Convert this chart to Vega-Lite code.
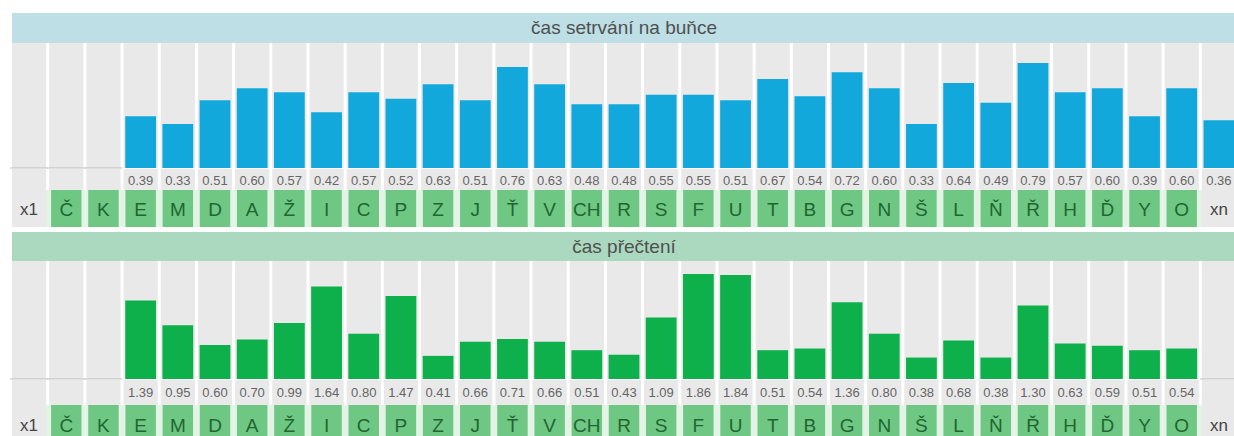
{
  "$schema": "https://vega.github.io/schema/vega-lite/v6.json",
  "background": "white",
  "padding": {"left": 10, "top": 13, "right": 0, "bottom": 0},
  "spacing": 5,
  "datasets": {
    "cols": [
      {"col": "x1", "setr": null, "prec": null},
      {"col": "Č", "setr": null, "prec": null},
      {"col": "K", "setr": null, "prec": null},
      {"col": "E", "setr": 0.39, "prec": 1.39},
      {"col": "M", "setr": 0.33, "prec": 0.95},
      {"col": "D", "setr": 0.51, "prec": 0.60},
      {"col": "A", "setr": 0.60, "prec": 0.70},
      {"col": "Ž", "setr": 0.57, "prec": 0.99},
      {"col": "I", "setr": 0.42, "prec": 1.64},
      {"col": "C", "setr": 0.57, "prec": 0.80},
      {"col": "P", "setr": 0.52, "prec": 1.47},
      {"col": "Z", "setr": 0.63, "prec": 0.41},
      {"col": "J", "setr": 0.51, "prec": 0.66},
      {"col": "Ť", "setr": 0.76, "prec": 0.71},
      {"col": "V", "setr": 0.63, "prec": 0.66},
      {"col": "CH", "setr": 0.48, "prec": 0.51},
      {"col": "R", "setr": 0.48, "prec": 0.43},
      {"col": "S", "setr": 0.55, "prec": 1.09},
      {"col": "F", "setr": 0.55, "prec": 1.86},
      {"col": "U", "setr": 0.51, "prec": 1.84},
      {"col": "T", "setr": 0.67, "prec": 0.51},
      {"col": "B", "setr": 0.54, "prec": 0.54},
      {"col": "G", "setr": 0.72, "prec": 1.36},
      {"col": "N", "setr": 0.60, "prec": 0.80},
      {"col": "Š", "setr": 0.33, "prec": 0.38},
      {"col": "L", "setr": 0.64, "prec": 0.68},
      {"col": "Ň", "setr": 0.49, "prec": 0.38},
      {"col": "Ř", "setr": 0.79, "prec": 1.30},
      {"col": "H", "setr": 0.57, "prec": 0.63},
      {"col": "Ď", "setr": 0.60, "prec": 0.59},
      {"col": "Y", "setr": 0.39, "prec": 0.51},
      {"col": "O", "setr": 0.60, "prec": 0.54},
      {"col": "xn", "setr": 0.36, "prec": null}
    ]
  },
  "vconcat": [
    {
      "spacing": 0,
      "vconcat": [
        {
          "width": 1224, "height": 30,
          "view": {"fill": "#bddfe5", "stroke": null},
          "data": {"values": [{"t": "čas setrvání na buňce"}]},
          "mark": {"type": "text", "fontSize": 19, "color": "#505050", "font": "Liberation Sans"},
          "encoding": {"text": {"field": "t", "type": "nominal"}}
        },
        {
          "width": 1224, "height": 125,
          "data": {"name": "cols"},
          "layer": [
            {
              "mark": {"type": "bar", "color": "#e9e9e9"},
              "encoding": {"x": {"field": "col", "type": "nominal", "sort": null, "axis": null, "scale": {"domain": ["x1","Č","K","E","M","D","A","Ž","I","C","P","Z","J","Ť","V","CH","R","S","F","U","T","B","G","N","Š","L","Ň","Ř","H","Ď","Y","O","xn"], "paddingInner": 0.08, "paddingOuter": 0}}}
            },
            {
              "transform": [{"filter": "datum.setr != null"}],
              "mark": {"type": "bar", "color": "#12a8dc", "width": {"band": 0.9}},
              "encoding": {
                "x": {"field": "col", "type": "nominal", "sort": null, "axis": null, "scale": {"domain": ["x1","Č","K","E","M","D","A","Ž","I","C","P","Z","J","Ť","V","CH","R","S","F","U","T","B","G","N","Š","L","Ň","Ř","H","Ď","Y","O","xn"], "paddingInner": 0.08, "paddingOuter": 0}},
                "y": {"field": "setr", "type": "quantitative", "axis": null, "scale": {"domain": [0, 0.94], "nice": false}}
              }
            },
            {
              "transform": [{"filter": "datum.setr == null"}],
              "mark": {"type": "tick", "color": "#a9a9a9", "thickness": 1, "size": 38, "orient": "horizontal"},
              "encoding": {
                "x": {"field": "col", "type": "nominal", "sort": null, "axis": null, "scale": {"domain": ["x1","Č","K","E","M","D","A","Ž","I","C","P","Z","J","Ť","V","CH","R","S","F","U","T","B","G","N","Š","L","Ň","Ř","H","Ď","Y","O","xn"], "paddingInner": 0.08, "paddingOuter": 0}},
                "y": {"datum": 0, "type": "quantitative"}
              }
            }
          ]
        },
        {
          "width": 1224, "height": 21,
          "data": {"name": "cols"},
          "layer": [
            {
              "mark": {"type": "bar", "color": "#e9e9e9"},
              "encoding": {"x": {"field": "col", "type": "nominal", "sort": null, "axis": null, "scale": {"domain": ["x1","Č","K","E","M","D","A","Ž","I","C","P","Z","J","Ť","V","CH","R","S","F","U","T","B","G","N","Š","L","Ň","Ř","H","Ď","Y","O","xn"], "paddingInner": 0.08, "paddingOuter": 0}}}
            },
            {
              "transform": [{"filter": "datum.setr != null"}],
              "mark": {"type": "text", "fontSize": 13, "color": "#666666", "font": "Liberation Sans", "dy": 1},
              "encoding": {
                "x": {"field": "col", "type": "nominal", "sort": null, "axis": null, "scale": {"domain": ["x1","Č","K","E","M","D","A","Ž","I","C","P","Z","J","Ť","V","CH","R","S","F","U","T","B","G","N","Š","L","Ň","Ř","H","Ď","Y","O","xn"], "paddingInner": 0.08, "paddingOuter": 0}},
                "text": {"field": "setr", "type": "quantitative", "format": ".2f"}
              }
            }
          ]
        },
        {
          "width": 1224, "height": 37,
          "view": {"fill": "#e3f3e6", "stroke": null},
          "data": {"name": "cols"},
          "layer": [
            {
              "transform": [{"filter": "datum.col == 'x1' || datum.col == 'xn'"}],
              "mark": {"type": "bar", "color": "#e9e9e9"},
              "encoding": {"x": {"field": "col", "type": "nominal", "sort": null, "axis": null, "scale": {"domain": ["x1","Č","K","E","M","D","A","Ž","I","C","P","Z","J","Ť","V","CH","R","S","F","U","T","B","G","N","Š","L","Ň","Ř","H","Ď","Y","O","xn"], "paddingInner": 0.08, "paddingOuter": 0}}}
            },
            {
              "transform": [{"filter": "datum.col != 'x1' && datum.col != 'xn'"}],
              "mark": {"type": "bar", "color": "#6fc784", "width": {"band": 0.89}},
              "encoding": {"x": {"field": "col", "type": "nominal", "sort": null, "axis": null, "scale": {"domain": ["x1","Č","K","E","M","D","A","Ž","I","C","P","Z","J","Ť","V","CH","R","S","F","U","T","B","G","N","Š","L","Ň","Ř","H","Ď","Y","O","xn"], "paddingInner": 0.08, "paddingOuter": 0}}}
            },
            {
              "transform": [{"filter": "datum.col != 'x1' && datum.col != 'xn'"}],
              "mark": {"type": "text", "fontSize": 19, "color": "#1f6630", "font": "Liberation Sans", "dy": 1},
              "encoding": {
                "x": {"field": "col", "type": "nominal", "sort": null, "axis": null, "scale": {"domain": ["x1","Č","K","E","M","D","A","Ž","I","C","P","Z","J","Ť","V","CH","R","S","F","U","T","B","G","N","Š","L","Ň","Ř","H","Ď","Y","O","xn"], "paddingInner": 0.08, "paddingOuter": 0}},
                "text": {"field": "col", "type": "nominal"}
              }
            },
            {
              "transform": [{"filter": "datum.col == 'x1' || datum.col == 'xn'"}],
              "mark": {"type": "text", "fontSize": 17, "color": "#444444", "font": "Liberation Sans", "dy": 1},
              "encoding": {
                "x": {"field": "col", "type": "nominal", "sort": null, "axis": null, "scale": {"domain": ["x1","Č","K","E","M","D","A","Ž","I","C","P","Z","J","Ť","V","CH","R","S","F","U","T","B","G","N","Š","L","Ň","Ř","H","Ď","Y","O","xn"], "paddingInner": 0.08, "paddingOuter": 0}},
                "text": {"field": "col", "type": "nominal"}
              }
            }
          ]
        }
      ]
    },
    {
      "spacing": 0,
      "vconcat": [
        {
          "width": 1224, "height": 29,
          "view": {"fill": "#aad9bf", "stroke": null},
          "data": {"values": [{"t": "čas přečtení"}]},
          "mark": {"type": "text", "fontSize": 19, "color": "#505050", "font": "Liberation Sans"},
          "encoding": {"text": {"field": "t", "type": "nominal"}}
        },
        {
          "width": 1224, "height": 118,
          "data": {"name": "cols"},
          "layer": [
            {
              "mark": {"type": "bar", "color": "#e9e9e9"},
              "encoding": {"x": {"field": "col", "type": "nominal", "sort": null, "axis": null, "scale": {"domain": ["x1","Č","K","E","M","D","A","Ž","I","C","P","Z","J","Ť","V","CH","R","S","F","U","T","B","G","N","Š","L","Ň","Ř","H","Ď","Y","O","xn"], "paddingInner": 0.08, "paddingOuter": 0}}}
            },
            {
              "transform": [{"filter": "datum.prec != null"}],
              "mark": {"type": "bar", "color": "#0db04b", "width": {"band": 0.9}},
              "encoding": {
                "x": {"field": "col", "type": "nominal", "sort": null, "axis": null, "scale": {"domain": ["x1","Č","K","E","M","D","A","Ž","I","C","P","Z","J","Ť","V","CH","R","S","F","U","T","B","G","N","Š","L","Ň","Ř","H","Ď","Y","O","xn"], "paddingInner": 0.08, "paddingOuter": 0}},
                "y": {"field": "prec", "type": "quantitative", "axis": null, "scale": {"domain": [0, 2.09], "nice": false}}
              }
            },
            {
              "transform": [{"filter": "datum.prec == null"}],
              "mark": {"type": "tick", "color": "#a9a9a9", "thickness": 1, "size": 38, "orient": "horizontal"},
              "encoding": {
                "x": {"field": "col", "type": "nominal", "sort": null, "axis": null, "scale": {"domain": ["x1","Č","K","E","M","D","A","Ž","I","C","P","Z","J","Ť","V","CH","R","S","F","U","T","B","G","N","Š","L","Ň","Ř","H","Ď","Y","O","xn"], "paddingInner": 0.08, "paddingOuter": 0}},
                "y": {"datum": 0, "type": "quantitative"}
              }
            }
          ]
        },
        {
          "width": 1224, "height": 25,
          "data": {"name": "cols"},
          "layer": [
            {
              "mark": {"type": "bar", "color": "#e9e9e9"},
              "encoding": {"x": {"field": "col", "type": "nominal", "sort": null, "axis": null, "scale": {"domain": ["x1","Č","K","E","M","D","A","Ž","I","C","P","Z","J","Ť","V","CH","R","S","F","U","T","B","G","N","Š","L","Ň","Ř","H","Ď","Y","O","xn"], "paddingInner": 0.08, "paddingOuter": 0}}}
            },
            {
              "transform": [{"filter": "datum.prec != null"}],
              "mark": {"type": "text", "fontSize": 13, "color": "#666666", "font": "Liberation Sans"},
              "encoding": {
                "x": {"field": "col", "type": "nominal", "sort": null, "axis": null, "scale": {"domain": ["x1","Č","K","E","M","D","A","Ž","I","C","P","Z","J","Ť","V","CH","R","S","F","U","T","B","G","N","Š","L","Ň","Ř","H","Ď","Y","O","xn"], "paddingInner": 0.08, "paddingOuter": 0}},
                "text": {"field": "prec", "type": "quantitative", "format": ".2f"}
              }
            }
          ]
        },
        {
          "width": 1224, "height": 33,
          "view": {"fill": "#e3f3e6", "stroke": null},
          "data": {"name": "cols"},
          "layer": [
            {
              "transform": [{"filter": "datum.col == 'x1' || datum.col == 'xn'"}],
              "mark": {"type": "bar", "color": "#e9e9e9"},
              "encoding": {"x": {"field": "col", "type": "nominal", "sort": null, "axis": null, "scale": {"domain": ["x1","Č","K","E","M","D","A","Ž","I","C","P","Z","J","Ť","V","CH","R","S","F","U","T","B","G","N","Š","L","Ň","Ř","H","Ď","Y","O","xn"], "paddingInner": 0.08, "paddingOuter": 0}}}
            },
            {
              "transform": [{"filter": "datum.col != 'x1' && datum.col != 'xn'"}],
              "mark": {"type": "bar", "color": "#6fc784", "width": {"band": 0.89}},
              "encoding": {"x": {"field": "col", "type": "nominal", "sort": null, "axis": null, "scale": {"domain": ["x1","Č","K","E","M","D","A","Ž","I","C","P","Z","J","Ť","V","CH","R","S","F","U","T","B","G","N","Š","L","Ň","Ř","H","Ď","Y","O","xn"], "paddingInner": 0.08, "paddingOuter": 0}}}
            },
            {
              "transform": [{"filter": "datum.col != 'x1' && datum.col != 'xn'"}],
              "mark": {"type": "text", "fontSize": 19, "color": "#1f6630", "font": "Liberation Sans", "dy": 4},
              "encoding": {
                "x": {"field": "col", "type": "nominal", "sort": null, "axis": null, "scale": {"domain": ["x1","Č","K","E","M","D","A","Ž","I","C","P","Z","J","Ť","V","CH","R","S","F","U","T","B","G","N","Š","L","Ň","Ř","H","Ď","Y","O","xn"], "paddingInner": 0.08, "paddingOuter": 0}},
                "text": {"field": "col", "type": "nominal"}
              }
            },
            {
              "transform": [{"filter": "datum.col == 'x1' || datum.col == 'xn'"}],
              "mark": {"type": "text", "fontSize": 17, "color": "#444444", "font": "Liberation Sans", "dy": 4},
              "encoding": {
                "x": {"field": "col", "type": "nominal", "sort": null, "axis": null, "scale": {"domain": ["x1","Č","K","E","M","D","A","Ž","I","C","P","Z","J","Ť","V","CH","R","S","F","U","T","B","G","N","Š","L","Ň","Ř","H","Ď","Y","O","xn"], "paddingInner": 0.08, "paddingOuter": 0}},
                "text": {"field": "col", "type": "nominal"}
              }
            }
          ]
        }
      ]
    }
  ],
  "config": {"view": {"stroke": null}}
}
